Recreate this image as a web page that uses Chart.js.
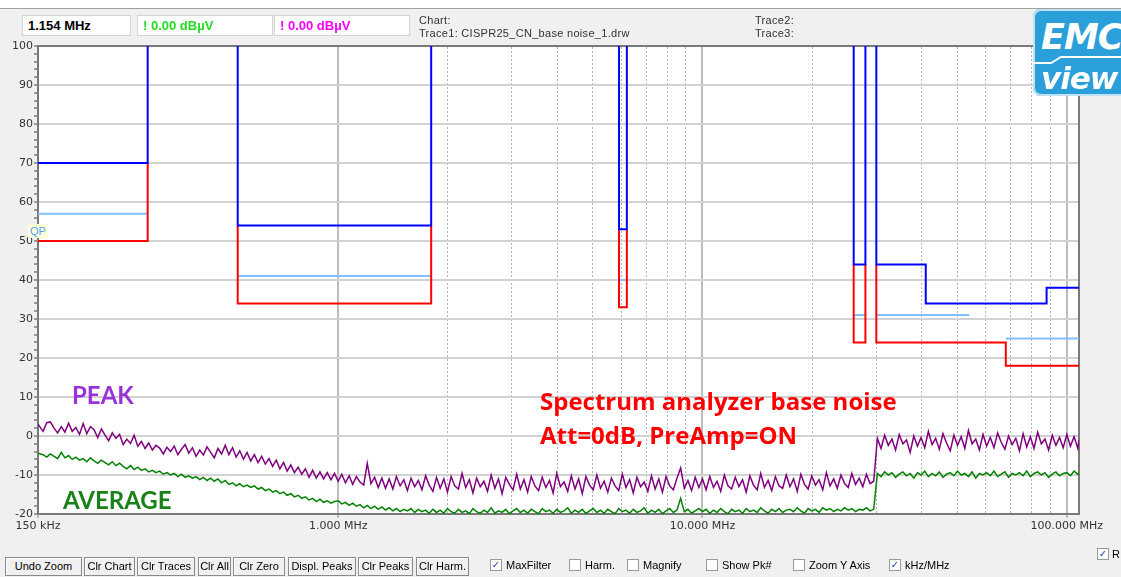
<!DOCTYPE html>
<html>
<head>
<meta charset="utf-8">
<script src="https://cdn.jsdelivr.net/npm/chart.js@4.4.1/dist/chart.umd.min.js"></script>
<style>
  html, body { margin: 0; padding: 0; }
  body { width: 1121px; height: 577px; background: #f0f0f0; position: relative; overflow: hidden; font-family: "Liberation Sans", sans-serif; }
  #tira { position: absolute; left: 0; top: 0; width: 1121px; height: 8px; background: #fff; border-bottom: 1px solid #a0a0a0; }
  #grafica { position: absolute; left: 0; top: 0; }
  .caja { position: absolute; top: 15px; height: 21px; box-sizing: border-box; background: #fff; border: 1px solid #d4d4d4;
          font: bold 13px "Liberation Sans", sans-serif; line-height: 19px; padding-left: 5px; }
  .info { position: absolute; font: 11px "Liberation Sans", sans-serif; color: #333; letter-spacing: 0.3px; }
  .nota { position: absolute; font-family: Lato, sans-serif; font-weight: bold; white-space: nowrap; }
  .roja { position: absolute; font-family: "Open Sans", sans-serif; font-weight: bold; white-space: nowrap; color: #ff0000; font-size: 24px; }
  #qp { position: absolute; left: 28px; top: 224px; width: 20px; height: 14px; background: #ffffdc; color: #4da3ff;
        font: 11px "Liberation Sans", sans-serif; line-height: 14px; text-align: center; }
  #logo { position: absolute; left: 1033px; top: 9px; width: 100px; height: 87px; background: #2b9fda; border-radius: 8px;
          box-shadow: inset 0 0 0 2px #bfe2f5; overflow: hidden; }
  #logo .t { position: absolute; left: 8px; color: #fff; font-style: italic; font-weight: bold; font-family: "DejaVu Sans", sans-serif; letter-spacing: -1px; }
  .btn { position: absolute; top: 557px; height: 19px; box-sizing: border-box; background: #f0f0f0; border: 1px solid #8a8a8a;
         box-shadow: inset 1px 1px 0 #fff; font: 11px "Liberation Sans Narrow", "Liberation Sans", sans-serif; line-height: 17px;
         text-align: center; color: #000; }
  .chk { position: absolute; top: 559px; width: 12px; height: 12px; box-sizing: border-box; background: #fff; border: 1px solid #9a9a9a;
         font: bold 10px "DejaVu Sans", sans-serif; color: #2040c0; line-height: 10px; text-align: center; }
  .lbl { position: absolute; top: 559px; font: 11px "Liberation Sans Narrow", "Liberation Sans", sans-serif; color: #000; line-height: 12px; }
</style>
</head>
<body>
<div id="tira"></div>
<canvas id="grafica" width="1121" height="577"></canvas>

<div class="caja" style="left:22px;width:109px;color:#000">1.154 MHz</div>
<div class="caja" style="left:137px;width:136px;color:#22dd22">! 0.00 dBµV</div>
<div class="caja" style="left:274px;width:136px;color:#ff00ff">! 0.00 dBµV</div>
<div class="info" style="left:419px;top:14px">Chart:</div>
<div class="info" style="left:419px;top:27px">Trace1: CISPR25_CN_base noise_1.drw</div>
<div class="info" style="left:755px;top:14px">Trace2:</div>
<div class="info" style="left:755px;top:27px">Trace3:</div>

<div id="logo">
  <div class="t" style="top:8px;font-size:35px">EMC</div>
  <svg width="100" height="87" style="position:absolute;left:0;top:0">
    <path d="M0 54 L18 54 L28 48 L100 48" stroke="#fff" stroke-width="2" fill="none"/>
  </svg>
  <div class="t" style="top:51px;font-size:31px">view</div>
</div>

<div id="qp">QP</div>
<div class="nota" style="left:72px;top:380px;font-size:24px;color:#9932d8">PEAK</div>
<div class="nota" style="left:63px;top:485px;font-size:24px;color:#1a801a">AVERAGE</div>
<div class="roja" style="left:540px;top:384px">Spectrum analyzer base noise</div>
<div class="roja" style="left:540px;top:418px">Att=0dB, PreAmp=ON</div>

<div class="btn" style="left:5px;width:77px">Undo Zoom</div>
<div class="btn" style="left:84px;width:51px">Clr Chart</div>
<div class="btn" style="left:137px;width:58px">Clr Traces</div>
<div class="btn" style="left:198px;width:33px">Clr All</div>
<div class="btn" style="left:233px;width:52px">Clr Zero</div>
<div class="btn" style="left:288px;width:68px">Displ. Peaks</div>
<div class="btn" style="left:358px;width:55px">Clr Peaks</div>
<div class="btn" style="left:416px;width:53px">Clr Harm.</div>

<div class="chk" style="left:490px">✓</div><div class="lbl" style="left:506px">MaxFilter</div>
<div class="chk" style="left:569px"></div><div class="lbl" style="left:585px">Harm.</div>
<div class="chk" style="left:627px"></div><div class="lbl" style="left:643px">Magnify</div>
<div class="chk" style="left:706px"></div><div class="lbl" style="left:722px">Show Pk#</div>
<div class="chk" style="left:793px"></div><div class="lbl" style="left:809px">Zoom Y Axis</div>
<div class="chk" style="left:889px">✓</div><div class="lbl" style="left:905px">kHz/MHz</div>
<div class="chk" style="left:1097px;top:548px">✓</div><div class="lbl" style="left:1112px;top:548px">R</div>

<script>
// ── Datos: barrido del analizador (MHz) y niveles en dBµV ─────
const FREQ_MHZ = [
    0.150, 0.1549, 0.1585, 0.1622, 0.1660, 0.1698, 0.1738, 0.1778, 0.1820, 0.1862,
    0.1905, 0.1950, 0.1995, 0.2042, 0.2089, 0.2138, 0.2188, 0.2239, 0.2291, 0.2344,
    0.2399, 0.2455, 0.2512, 0.2570, 0.2630, 0.2692, 0.2754, 0.2818, 0.2884, 0.2951,
    0.3020, 0.3090, 0.3162, 0.3236, 0.3311, 0.3388, 0.3467, 0.3548, 0.3631, 0.3715,
    0.3802, 0.3890, 0.3981, 0.4074, 0.4169, 0.4266, 0.4365, 0.4467, 0.4571, 0.4677,
    0.4786, 0.4898, 0.5012, 0.5129, 0.5248, 0.5370, 0.5495, 0.5623, 0.5754, 0.5888,
    0.6026, 0.6166, 0.6310, 0.6457, 0.6607, 0.6761, 0.6918, 0.7079, 0.7244, 0.7413,
    0.7586, 0.7762, 0.7943, 0.8128, 0.8318, 0.8511, 0.8710, 0.8913, 0.9120, 0.9333,
    0.9550, 0.9772,
    1.000, 1.023, 1.047, 1.072, 1.096, 1.122, 1.148, 1.175, 1.202, 1.230,
    1.259, 1.288, 1.318, 1.349, 1.380, 1.413, 1.445, 1.479, 1.514, 1.549,
    1.585, 1.622, 1.660, 1.698, 1.738, 1.778, 1.820, 1.862, 1.905, 1.950,
    1.995, 2.042, 2.089, 2.138, 2.188, 2.239, 2.291, 2.344, 2.399, 2.455,
    2.512, 2.570, 2.630, 2.692, 2.754, 2.818, 2.884, 2.951, 3.020, 3.090,
    3.162, 3.236, 3.311, 3.388, 3.467, 3.548, 3.631, 3.715, 3.802, 3.890,
    3.981, 4.074, 4.169, 4.266, 4.365, 4.467, 4.571, 4.677, 4.786, 4.898,
    5.012, 5.129, 5.248, 5.370, 5.495, 5.623, 5.754, 5.888, 6.026, 6.166,
    6.310, 6.457, 6.607, 6.761, 6.918, 7.079, 7.244, 7.413, 7.586, 7.762,
    7.943, 8.128, 8.318, 8.511, 8.710, 8.913, 9.120, 9.333, 9.550, 9.772,
    10.00, 10.23, 10.47, 10.72, 10.96, 11.22, 11.48, 11.75, 12.02, 12.30,
    12.59, 12.88, 13.18, 13.49, 13.80, 14.13, 14.45, 14.79, 15.14, 15.49,
    15.85, 16.22, 16.60, 16.98, 17.38, 17.78, 18.20, 18.62, 19.05, 19.50,
    19.95, 20.42, 20.89, 21.38, 21.88, 22.39, 22.91, 23.44, 23.99, 24.55,
    25.12, 25.70, 26.30, 26.92, 27.54, 28.18, 28.84, 29.51, 30.20, 30.90,
    31.62, 32.36, 33.11, 33.88, 34.67, 35.48, 36.31, 37.15, 38.02, 38.90,
    39.81, 40.74, 41.69, 42.66, 43.65, 44.67, 45.71, 46.77, 47.86, 48.98,
    50.12, 51.29, 52.48, 53.70, 54.95, 56.23, 57.54, 58.88, 60.26, 61.66,
    63.10, 64.57, 66.07, 67.61, 69.18, 70.79, 72.44, 74.13, 75.86, 77.62,
    79.43, 81.28, 83.18, 85.11, 87.10, 89.13, 91.20, 93.33, 95.50, 97.72,
    100.0, 102.3, 104.7, 107.2, 108.0,
];

const PEAK_DBUV = [
    3.0, 1.2, 3.4, 3.6, 2.0, 0.8, 2.4, 1.0, 3.3, 1.2,
    2.2, 0.4, 3.2, 0.6, 2.4, 1.6, -0.4, 1.8, 0.2, -1.2,
    0.8, -0.6, 0.4, -2.2, -0.8, -1.9, 0.2, -2.6, -1.4, -3.2,
    -1.8, -3.6, -2.4, -3.1, -4.6, -2.9, -4.0, -2.6, -4.8, -3.4,
    -2.2, -4.4, -3.0, -5.2, -3.6, -4.9, -2.8, -4.2, -5.6, -3.2,
    -4.6, -2.4, -4.8, -3.0, -5.4, -3.8, -5.9, -4.2, -6.4, -4.8,
    -6.8, -5.2, -7.2, -5.8, -7.8, -6.2, -8.4, -6.8, -9.0, -7.4,
    -9.4, -8.0, -9.8, -8.4, -10.6, -8.8, -10.8, -9.2, -11.0, -9.4,
    -11.2, -9.6,
    -11.6, -9.8, -12.0, -10.2, -12.4, -10.4, -11.8, -12.6, -7.0, -12.2,
    -10.6, -13.2, -10.8, -13.4, -11.0, -13.6, -10.4, -12.8, -11.2, -14.0,
    -10.8, -13.0, -11.4, -13.8, -10.2, -12.6, -14.2, -10.6, -13.4, -11.0,
    -14.4, -10.4, -12.8, -13.6, -9.6, -13.2, -11.2, -14.6, -10.8, -13.0,
    -11.6, -14.2, -10.0, -13.4, -11.0, -14.8, -10.6, -12.4, -13.8, -9.8,
    -13.6, -11.2, -14.4, -10.4, -12.8, -14.0, -10.6, -13.2, -11.4, -14.6,
    -9.6, -13.0, -11.8, -14.2, -10.2, -13.6, -11.0, -14.8, -10.4, -12.6,
    -13.8, -10.0, -13.4, -11.6, -14.4, -10.8, -12.8, -14.0, -9.8, -13.2,
    -11.2, -14.6, -10.6, -13.0, -11.8, -14.2, -10.2, -13.6, -11.0, -14.4,
    -10.4, -12.8, -13.8, -10.8, -8.2, -13.4, -11.4, -14.0, -10.6, -13.2,
    -11.0, -13.8, -10.4, -13.2, -11.6, -14.2, -10.0, -12.8, -13.6, -10.6,
    -13.0, -11.2, -14.4, -10.2, -12.6, -13.8, -9.6, -13.2, -11.4, -14.0,
    -10.4, -12.8, -13.4, -10.0, -13.0, -11.0, -14.2, -9.8, -12.4, -13.6,
    -10.2, -12.6, -11.2, -13.8, -9.4, -12.8, -11.0, -13.4, -10.0, -12.2,
    -13.2, -9.6, -12.4, -10.8, -13.0, -9.8, -12.2, -11.6, -0.6, -3.2,
    0.2, -2.4, -0.8, -3.6, 0.4, -2.0, -1.0, -4.2, 0.0, -2.6,
    -0.4, -3.0, 1.2, -2.2, -0.6, -3.4, 0.6, -1.8, -3.8, 0.2,
    -2.4, -0.2, -3.2, 1.4, -2.0, -0.8, -3.6, 0.4, -2.6, -0.4,
    -3.0, 0.8, -1.6, -3.4, 0.0, -2.2, -0.6, -3.8, 0.6, -2.8,
    -0.2, -3.2, 1.0, -2.0, -0.8, -3.6, 0.2, -2.4, -0.4, -3.0,
    0.4, -2.6, -0.2, -3.2, -1.0,
];

const AVG_DBUV = [
    -4.4, -4.8, -5.4, -4.6, -5.2, -5.8, -4.2, -5.6, -5.0, -6.0,
    -5.4, -6.2, -5.8, -6.6, -5.6, -6.4, -7.0, -6.2, -6.8, -7.4,
    -6.6, -7.6, -7.0, -7.8, -8.4, -7.6, -8.6, -8.0, -8.8, -8.4,
    -9.2, -8.8, -9.4, -9.0, -9.8, -9.4, -10.0, -9.6, -10.4, -9.8,
    -10.6, -10.2, -10.8, -10.4, -11.2, -10.6, -11.4, -10.8, -11.6, -11.0,
    -12.0, -11.4, -12.4, -12.0, -12.8, -12.2, -13.0, -12.6, -13.2, -12.8,
    -13.6, -13.2, -14.0, -13.6, -14.4, -14.0, -14.8, -14.4, -15.2, -14.8,
    -15.6, -15.2, -16.0, -15.6, -16.4, -16.0, -16.8, -16.2, -17.0, -16.6,
    -17.2, -16.8,
    -16.6, -17.4, -17.0, -17.8, -17.2, -18.0, -17.6, -18.4, -17.8, -18.6,
    -18.0, -18.8, -18.2, -19.0, -18.4, -19.2, -18.6, -19.4, -18.8, -19.2,
    -18.6, -19.6, -18.8, -19.4, -19.0, -19.8, -18.8, -19.6, -19.0, -19.8,
    -18.6, -19.4, -19.8, -18.8, -19.6, -19.2, -19.9, -18.6, -19.4, -19.8,
    -19.0, -19.6, -18.4, -19.8, -19.2, -19.6, -18.8, -19.9, -19.2, -18.6,
    -19.6, -19.0, -19.8, -18.8, -19.4, -19.9, -18.6, -19.4, -19.0, -19.8,
    -18.8, -19.6, -19.2, -18.4, -19.8, -19.0, -19.6, -18.8, -19.9, -19.2,
    -18.6, -19.6, -19.0, -19.8, -18.8, -19.4, -19.9, -18.6, -19.4, -19.0,
    -19.8, -18.8, -19.6, -19.2, -18.4, -19.8, -19.0, -19.6, -18.8, -19.9,
    -19.2, -18.6, -19.6, -19.0, -16.0, -19.4, -18.8, -19.8, -19.2, -18.6,
    -19.4, -18.8, -19.8, -19.0, -19.6, -18.6, -19.4, -19.9, -18.8, -19.4,
    -19.0, -19.8, -18.6, -19.4, -19.0, -19.6, -18.4, -19.2, -19.8, -18.8,
    -19.4, -18.6, -19.6, -19.0, -18.8, -19.4, -18.4, -19.2, -19.8, -18.6,
    -19.2, -18.8, -19.6, -18.4, -19.0, -18.6, -19.4, -18.8, -19.2, -18.4,
    -19.0, -18.6, -19.4, -18.8, -19.0, -18.4, -19.2, -18.8, -9.6, -10.4,
    -9.2, -10.0, -9.4, -10.6, -9.8, -9.2, -10.2, -9.6, -10.8, -9.4,
    -10.0, -9.0, -10.4, -9.6, -10.2, -9.2, -10.6, -9.8, -9.4, -10.2,
    -9.0, -10.0, -9.6, -10.4, -9.2, -10.8, -9.6, -10.0, -9.4, -10.2,
    -9.0, -10.4, -9.8, -9.2, -10.6, -9.6, -10.0, -9.4, -10.2, -9.0,
    -10.4, -9.6, -9.2, -10.0, -9.4, -10.6, -9.8, -9.2, -10.2, -9.6,
    -9.4, -10.2, -9.0, -9.8, -9.6,
];

// ── Límites CISPR 25 (escalones; null = corte de la línea) ────
const PK_LIMIT_MHZ = [0.15, 0.30, 0.30, 0.30, 0.53, 0.53, 1.8, 1.8, 1.8, 5.9, 5.9, 6.2, 6.2, 6.2,
                      26, 26, 28, 28, 28, 30, 30, 41, 41, 88, 88, 108];
const PK_LIMIT_DB  = [70, 70, 100, null, 100, 54, 54, 100, null, 100, 53, 53, 100, null,
                      100, 44, 44, 100, null, 100, 44, 44, 34, 34, 38, 38];

const QP_LIMIT_MHZ = [0.15, 0.30, 0.30, 0.53, 1.8, 1.8, 5.9, 6.2, 6.2, 26, 28, 28, 30, 54, 54, 68, 108];
const QP_LIMIT_DB  = [57, 57, null, 41, 41, null, 40, 40, null, 31, 31, null, 31, 31, null, 25, 25];

const AV_LIMIT_MHZ = [0.15, 0.30, 0.30, 0.30, 0.53, 0.53, 1.8, 1.8, 1.8, 5.9, 5.9, 6.2, 6.2, 6.2,
                      26, 26, 28, 28, 28, 30, 30, 68, 68, 108];
const AV_LIMIT_DB  = [50, 50, 70, null, 54, 34, 34, 54, null, 53, 33, 33, 53, null,
                      44, 24, 24, 44, null, 44, 24, 24, 18, 18];

// ── Ejes ──────────────────────────────────────────────────────
const X_MIN_MHZ = 0.15, X_MAX_MHZ = 108;
const X_TICKS_MHZ   = [0.15, 1, 10, 100];
const X_TICK_LABELS = ['150 kHz', '1.000 MHz', '10.000 MHz', '100.000 MHz'];
const X_MINOR_MHZ   = [2, 3, 4, 5, 6, 7, 8, 9, 20, 30, 40, 50, 60, 70, 80, 90];
const Y_MIN = -20, Y_MAX = 100;

const pares = (fx, fy) => fx.map((f, i) => ({ x: f, y: fy[i] }));

const fondoBlanco = {
    id: 'fondoBlanco',
    beforeDraw(chart) {
        const { ctx, chartArea: a } = chart;
        ctx.save();
        ctx.fillStyle = '#ffffff';
        ctx.fillRect(a.left, a.top, a.right - a.left, a.bottom - a.top);
        ctx.restore();
    },
};

const linea = (label, data, color, ancho, orden) => ({
    label, data, borderColor: color, borderWidth: ancho, pointRadius: 0, tension: 0,
    fill: false, spanGaps: false, order: orden,
});

const fuenteEje = { family: 'DejaVu Sans', size: 11 };

new Chart(document.getElementById('grafica'), {
    type: 'line',
    data: {
        datasets: [
            linea('Peak limit', pares(PK_LIMIT_MHZ, PK_LIMIT_DB), '#0000ff', 2, 1),
            linea('Average limit', pares(AV_LIMIT_MHZ, AV_LIMIT_DB), '#ff0000', 2, 2),
            linea('QP limit', pares(QP_LIMIT_MHZ, QP_LIMIT_DB), '#80c0ff', 2, 3),
            linea('Peak', pares(FREQ_MHZ, PEAK_DBUV), '#800080', 1.5, 4),
            linea('Average', pares(FREQ_MHZ, AVG_DBUV), '#008000', 1.5, 5),
        ],
    },
    options: {
        responsive: false,
        animation: false,
        devicePixelRatio: 1,
        layout: { padding: { left: 0, top: 46, right: 42, bottom: 43 } },
        plugins: { legend: { display: false }, tooltip: { enabled: false } },
        scales: {
            x: {
                type: 'logarithmic', position: 'bottom', min: X_MIN_MHZ, max: X_MAX_MHZ,
                afterBuildTicks: s => { s.ticks = X_TICKS_MHZ.map(v => ({ value: v })); },
                afterFit: s => { s.height = 20; },
                ticks: { autoSkip: false, maxRotation: 0, padding: 2, color: '#333', font: fuenteEje,
                         callback: (v, i) => X_TICK_LABELS[i] },
                grid: { color: c => (c.index === 0 ? 'transparent' : '#bdbdbd'), lineWidth: 2,
                        tickLength: 4, tickColor: '#8a8a8a', tickWidth: 1 },
                border: { color: '#7a7a7a', width: 2 },
            },
            xMinor: {
                type: 'logarithmic', position: 'top', min: X_MIN_MHZ, max: X_MAX_MHZ,
                afterBuildTicks: s => { s.ticks = X_MINOR_MHZ.map(v => ({ value: v })); },
                afterFit: s => { s.height = 0; },
                ticks: { display: false },
                grid: { color: '#b4b4b4', lineWidth: 1, drawTicks: false },
                border: { color: '#7a7a7a', width: 2, dash: [2, 2] },
            },
            y: {
                min: Y_MIN, max: Y_MAX,
                afterFit: s => { s.width = 38; },
                ticks: { stepSize: 2, autoSkip: false, padding: 1, color: '#333', font: fuenteEje,
                         callback: v => (v % 10 === 0 ? v : '') },
                grid: { color: c => (c.tick && c.tick.value % 10 === 0 ? '#d2d2d2' : 'transparent'), lineWidth: 2,
                        tickLength: 4, tickColor: '#9a9a9a', tickWidth: 2 },
                border: { color: '#7a7a7a', width: 2 },
            },
            yR: {
                position: 'right', min: Y_MIN, max: Y_MAX,
                afterFit: s => { s.width = 0; },
                ticks: { display: false },
                grid: { display: false },
                border: { color: '#7a7a7a', width: 2 },
            },
        },
    },
    plugins: [fondoBlanco],
});
</script>
</body>
</html>
